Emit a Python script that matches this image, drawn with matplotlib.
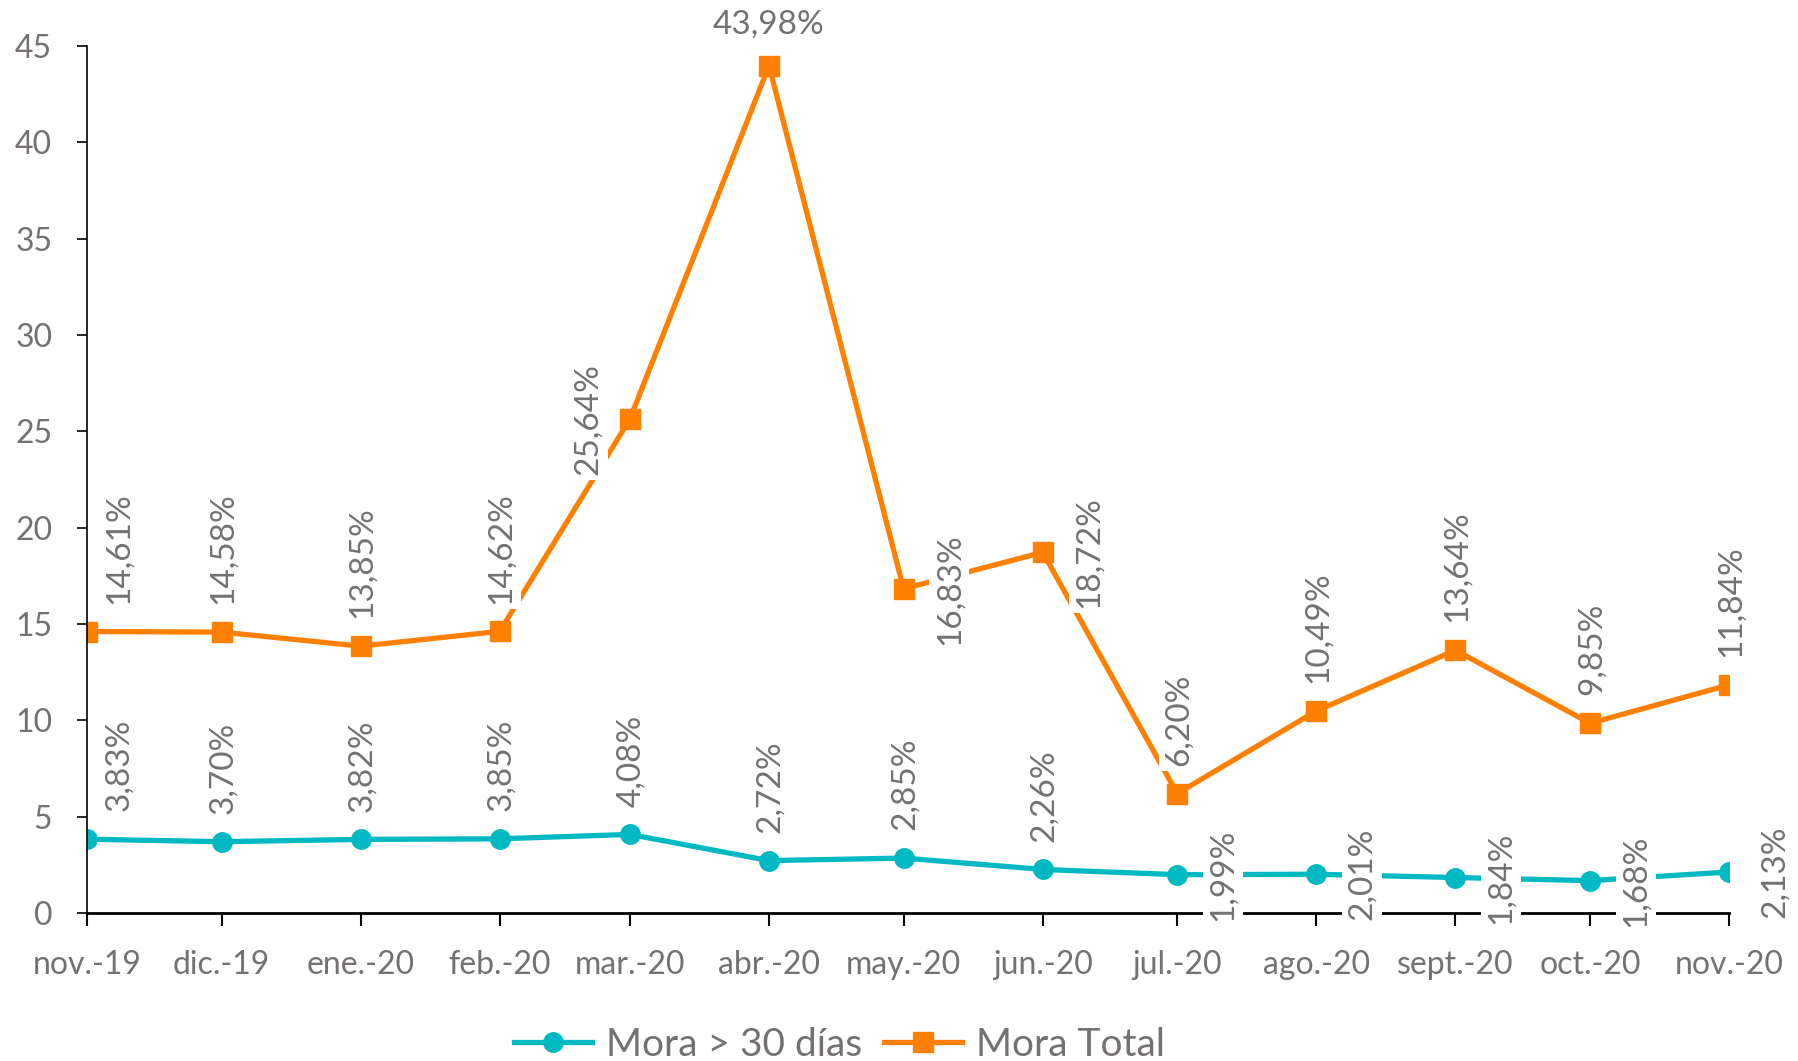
import matplotlib
matplotlib.use("Agg")
import matplotlib.pyplot as plt
import matplotlib.dates as mdates
from datetime import datetime

plt.rcParams['font.family'] = ['Lato', 'DejaVu Sans']

months = [datetime(2019, 11, 1), datetime(2019, 12, 1), datetime(2020, 1, 1), datetime(2020, 2, 1),
          datetime(2020, 3, 1), datetime(2020, 4, 1), datetime(2020, 5, 1), datetime(2020, 6, 1),
          datetime(2020, 7, 1), datetime(2020, 8, 1), datetime(2020, 9, 1), datetime(2020, 10, 1),
          datetime(2020, 11, 1)]
tick_labels = ["nov.-19", "dic.-19", "ene.-20", "feb.-20", "mar.-20", "abr.-20", "may.-20",
               "jun.-20", "jul.-20", "ago.-20", "sept.-20", "oct.-20", "nov.-20"]
mora_30 = [3.83, 3.70, 3.82, 3.85, 4.08, 2.72, 2.85, 2.26, 1.99, 2.01, 1.84, 1.68, 2.13]
mora_total = [14.61, 14.58, 13.85, 14.62, 25.64, 43.98, 16.83, 18.72, 6.20, 10.49, 13.64, 9.85, 11.84]
# label placement per point: 'up', 'upright', 'left', 'right', 'top'
pos_30 = ['upright', 'up', 'up', 'up', 'up', 'up', 'up', 'up', 'right', 'right', 'right', 'right', 'right']
pos_total = ['upright', 'up', 'up', 'up', 'left', 'top', 'right', 'right', 'up', 'up', 'up', 'up', 'up']

TEAL = '#00B9C3'
ORANGE = '#FF8000'
GRAY = '#757171'

fig = plt.figure(figsize=(17.98, 10.61), dpi=100)
ax = fig.add_axes([0.0484, 0.1395, 0.9617 - 0.0484, 0.9566 - 0.1395])

l1, = ax.plot(months, mora_30, color=TEAL, lw=3.8, marker='o', ms=14, label='Mora > 30 días', zorder=2)
l2, = ax.plot(months, mora_total, color=ORANGE, lw=3.8, marker='s', ms=14, label='Mora Total', zorder=2)

ax.set_xlim(months[0], months[-1])
ax.set_ylim(0, 45)
ax.set_yticks(range(0, 46, 5))
ax.set_xticks(months)
ax.set_xticklabels(tick_labels)

for s in ['top', 'right']:
    ax.spines[s].set_visible(False)
ax.spines['left'].set_linewidth(1.2)
ax.spines['bottom'].set_linewidth(2.0)
ax.tick_params(axis='y', length=7, width=1.2, colors='black', labelcolor=GRAY, labelsize=23, pad=18)
ax.tick_params(axis='x', length=9, width=1.5, colors='black', labelcolor=GRAY, labelsize=23, pad=18)

def label(x, y, txt, pos):
    kw = dict(textcoords='offset points', color=GRAY, fontsize=24, annotation_clip=False,
              bbox=dict(boxstyle='square,pad=0.15', fc='white', ec='none'), zorder=5)
    if pos == 'up':
        ax.annotate(txt, (x, y), xytext=(1, 20), rotation=90, ha='center', va='bottom', **kw)
    elif pos == 'upright':
        ax.annotate(txt, (x, y), xytext=(23, 20), rotation=90, ha='center', va='bottom', **kw)
    elif pos == 'left':
        ax.annotate(txt, (x, y), xytext=(-30, 0), rotation=90, ha='center', va='center', **kw)
    elif pos == 'right':
        ax.annotate(txt, (x, y), xytext=(33, 0), rotation=90, ha='center', va='center', **kw)
    elif pos == 'top':
        ax.annotate(txt, (x, y), xytext=(0, 30), rotation=0, ha='center', va='center', **kw)

def fmt(v):
    return f"{v:.2f}".replace('.', ',') + '%'

for x, y, p in zip(months, mora_30, pos_30):
    label(x, y, fmt(y), p)
for x, y, p in zip(months, mora_total, pos_total):
    label(x, y, fmt(y), p)

leg = fig.legend(handles=[l1, l2], loc='center', bbox_to_anchor=(0.467, 0.015), ncol=2,
                 frameon=False, fontsize=28, handlelength=2.0, columnspacing=0.55, handletextpad=0.37,
                 labelcolor=GRAY)

fig.savefig('out.png', dpi=100)
